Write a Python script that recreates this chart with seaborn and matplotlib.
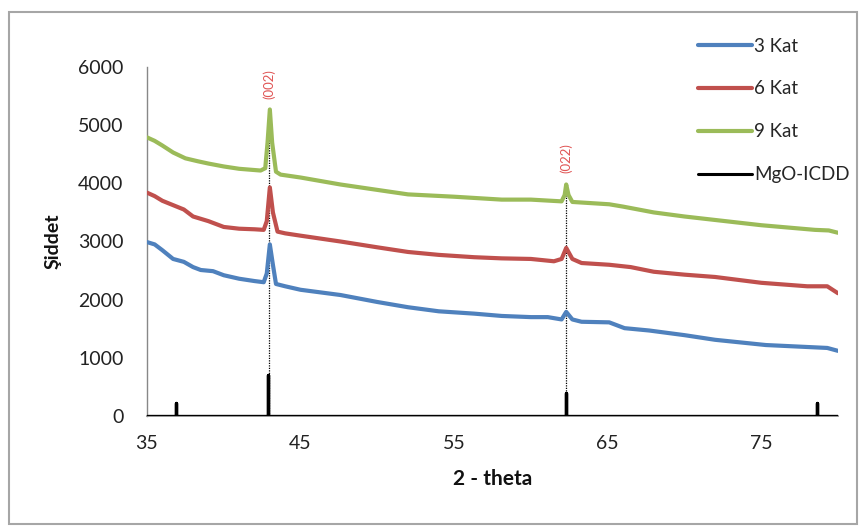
import numpy as np
import pandas as pd
import matplotlib
matplotlib.use("Agg")
import matplotlib.pyplot as plt
from matplotlib.patches import Rectangle
from matplotlib.lines import Line2D
import seaborn as sns

# ---------------- data ----------------
theta_3 = [35.0, 35.5, 36.0, 36.7, 37.4, 38.0, 38.5, 39.3, 40.0, 41.0, 42.0, 42.6, 42.8, 43.0, 43.2, 43.4,
           44.0, 45.0, 47.6, 50.0, 52.0, 54.0, 56.3, 58.1, 60.0, 61.1, 62.0, 62.3, 62.7, 63.3, 65.1,
           66.1, 67.7, 70.0, 72.0, 75.3, 78.5, 79.3, 80.0]
kat_3 = [2990, 2950, 2850, 2700, 2650, 2560, 2510, 2490, 2420, 2360, 2320, 2300, 2450, 2950, 2600, 2270,
         2230, 2170, 2080, 1960, 1870, 1800, 1760, 1720, 1700, 1700, 1660, 1790, 1660, 1620, 1610,
         1510, 1470, 1390, 1310, 1220, 1180, 1170, 1120]

theta_6 = [35.0, 35.5, 36.0, 37.4, 38.0, 39.0, 40.0, 41.0, 42.0, 42.6, 42.8, 43.0, 43.2, 43.5, 44.0,
           45.0, 47.6, 50.0, 52.0, 54.0, 56.3, 58.1, 60.0, 61.5, 62.0, 62.3, 62.7, 63.3, 65.1, 66.5,
           68.0, 70.0, 72.0, 75.0, 78.0, 79.3, 80.0]
kat_6 = [3840, 3780, 3700, 3550, 3430, 3350, 3250, 3220, 3210, 3200, 3350, 3930, 3500, 3170, 3140,
         3100, 3000, 2900, 2820, 2770, 2730, 2710, 2700, 2660, 2700, 2890, 2700, 2630, 2600, 2560,
         2480, 2430, 2390, 2290, 2230, 2230, 2110]

theta_9 = [35.0, 35.5, 36.0, 36.7, 37.5, 38.3, 39.0, 40.0, 41.0, 42.4, 42.7, 42.85, 43.0, 43.15, 43.4,
           43.7, 45.0, 47.6, 50.7, 52.0, 55.0, 58.1, 60.0, 62.0, 62.2, 62.3, 62.45, 62.7, 65.1, 66.0,
           68.0, 70.0, 72.0, 75.0, 78.5, 79.4, 80.0]
kat_9 = [4790, 4730, 4650, 4530, 4430, 4380, 4340, 4290, 4250, 4220, 4260, 4700, 5270, 4700, 4200,
         4150, 4100, 3980, 3860, 3810, 3770, 3720, 3720, 3690, 3800, 3980, 3800, 3680, 3640, 3600,
         3500, 3430, 3370, 3280, 3200, 3190, 3150]

icdd_pos = [36.9, 42.9, 62.3, 78.6]
icdd_int = [220, 700, 390, 220]

peak_labels = ["(002)", "(022)"]
peak_pos = [42.95, 62.3]
peak_top = [5250, 3980]
label_y = [5700, 4430]

series_names = ["3 Kat", "6 Kat", "9 Kat", "MgO-ICDD"]
series_colors = ["#4F81BD", "#C0504D", "#9BBB59", "#000000"]

xticks = [35, 45, 55, 65, 75]
yticks = [0, 1000, 2000, 3000, 4000, 5000, 6000]

# ---------------- figure ----------------
sns.set_theme(style="white")
plt.rcParams["font.family"] = ["Lato", "DejaVu Sans"]

fig = plt.figure(figsize=(8.67, 5.27), dpi=100)
ax = fig.add_axes([147 / 867, 1 - 416 / 527, (838 - 147) / 867, (416 - 67) / 527])

# ICDD stick pattern built from positions / intensities
ix, iy = [35.0], [0.0]
for p, h in zip(icdd_pos, icdd_int):
    ix += [p, p, p]
    iy += [0.0, h, 0.0]
ix.append(80.0)
iy.append(0.0)

# dotted guide lines
for p, top in zip(peak_pos, peak_top):
    ax.vlines(p, 0, top, colors="black", linestyles=(0, (1, 1)), linewidth=0.9, zorder=1)

lw = 3.0
sns.lineplot(x=theta_3, y=kat_3, ax=ax, color=series_colors[0], linewidth=lw, sort=False, estimator=None, zorder=3)
sns.lineplot(x=theta_6, y=kat_6, ax=ax, color=series_colors[1], linewidth=lw, sort=False, estimator=None, zorder=3)
sns.lineplot(x=theta_9, y=kat_9, ax=ax, color=series_colors[2], linewidth=lw, sort=False, estimator=None, zorder=3)
sns.lineplot(x=ix, y=iy, ax=ax, color=series_colors[3], linewidth=2.4, sort=False, estimator=None, zorder=4)

for lab, p, yy in zip(peak_labels, peak_pos, label_y):
    ax.text(p, yy, lab, rotation=90, ha="center", va="center", fontsize=9.5, color="#E05555")

ax.set_xlim(35, 80)
ax.set_ylim(0, 6000)
ax.set_xticks(xticks)
ax.set_yticks(yticks)
ax.tick_params(axis="both", length=0, labelsize=14, colors="#222222")
ax.tick_params(axis="y", pad=17)
ax.tick_params(axis="x", pad=14)
ax.grid(False)
for s in ["top", "right"]:
    ax.spines[s].set_visible(False)
ax.spines["left"].set_color("#888888")
ax.spines["left"].set_linewidth(1.0)
ax.spines["bottom"].set_color("#888888")

ax.set_xlabel("2 - theta", fontsize=15, fontweight="bold", color="#111111", labelpad=12)
ax.set_ylabel("Şiddet", fontsize=14, fontweight="bold", color="#111111", labelpad=12)

handles = [Line2D([0], [0], color=c, linewidth=(lw if i < 3 else 2.2)) for i, c in enumerate(series_colors)]
fig.legend(handles, series_names, loc="upper left", bbox_to_anchor=(690 / 867, 1 - 30 / 527),
           frameon=False, fontsize=13.5, handlelength=2.9, handletextpad=0.12, labelspacing=1.38,
           borderaxespad=0)

fig.add_artist(Rectangle((9 / 867, 3 / 527), 848 / 867, 512 / 527, transform=fig.transFigure,
                         fill=False, edgecolor="#A6A6A6", linewidth=1.5))

fig.savefig("out.png", dpi=100)
